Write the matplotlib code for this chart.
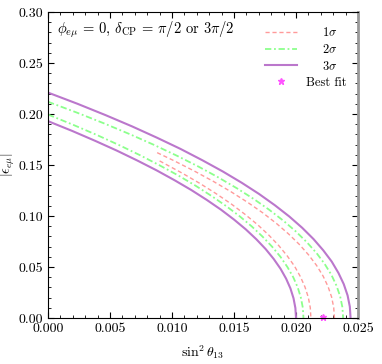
import matplotlib
matplotlib.use("Agg")
import matplotlib.pyplot as plt
from matplotlib.ticker import MultipleLocator

plt.rcParams.update({
    "font.family": "serif",
    "font.serif": ["cmr10", "DejaVu Serif"],
    "mathtext.fontset": "cm",
    "axes.formatter.use_mathtext": True,
    "font.size": 10,
})

# 3 sigma contour (outer / inner edge)
s3_out_x = [0, .00238, .00464, .00677, .00878, .01068, .01244, .01409, .01562, .01702, .0183,
            .01946, .0205, .02141, .0222, .02288, .02342, .02385, .02416, .02434, .0244]
s3_out_y = [.221, .2100, .1989, .1879, .1768, .1658, .1547, .1437, .1326, .1216, .1105,
            .0995, .0884, .0774, .0663, .0553, .0442, .0332, .0221, .0111, 0]
s3_in_x = [0, .00195, .0038, .00555, .0072, .00875, .0102, .01155, .0128, .01395, .0150,
           .01595, .0168, .01755, .0182, .01875, .0192, .01955, .0198, .01995, .0200]
s3_in_y = [.193, .1834, .1737, .1641, .1544, .1448, .1351, .1255, .1158, .1062, .0965,
           .0869, .0772, .0676, .0579, .0483, .0386, .0290, .0193, .0097, 0]

# 2 sigma contour
s2_out_x = [0, .00232, .00452, .0066, .00857, .01041, .01214, .01374, .01523, .0166, .01785,
            .01898, .01999, .02088, .02166, .02231, .02285, .02326, .02356, .02374, .0238]
s2_out_y = [.212, .2014, .1908, .1802, .1696, .159, .1484, .1378, .1272, .1166, .106,
            .0954, .0848, .0742, .0636, .053, .0424, .0318, .0212, .0106, 0]
s2_in_x = [0, .00201, .00391, .00572, .00742, .00901, .01051, .0119, .01318, .01437, .01545,
           .01643, .0173, .01808, .01875, .01931, .01978, .02014, .02039, .02055, .0206]
s2_in_y = [.1995, .1895, .1796, .1696, .1596, .1496, .1397, .1297, .1197, .1097, .0998,
           .0898, .0798, .0698, .0599, .0499, .0399, .0299, .0200, .0100, 0]

# 1 sigma contour
s1_out_x = [.0088, .01011, .01178, .01334, .01478, .01611, .01733, .01842, .0194, .02027,
            .02102, .02166, .02218, .02258, .02287, .02304, .0231]
s1_out_y = [.1621, .1545, .1442, .1339, .1236, .1133, .103, .0927, .0824, .0721,
            .0618, .0515, .0412, .0309, .0206, .0103, 0]
s1_in_x = [.0090, .01081, .01224, .01357, .01479, .0159, .01691, .01781, .0186, .01929,
           .01988, .02035, .02072, .02099, .02115, .0212]
s1_in_y = [.1540, .1421, .1320, .1218, .1117, .1015, .0914, .0812, .0711, .0609,
           .0508, .0406, .0305, .0203, .0102, 0]

best_x = [0.0222]
best_y = [0.0005]

fig = plt.figure(figsize=(3.82, 3.64), dpi=100)
ax = fig.add_axes([0.1257, 0.1264, 0.8115, 0.8406])

c1, c2, c3 = "#ff9a9a", "#8cff8c", "#bb77cc"
ls1 = (0, (3, 2))
ls2 = (0, (3.5, 1.5, 1, 1.5))
ax.plot(s1_out_x, s1_out_y, color=c1, ls=ls1, lw=1.0, label=r"    $1\sigma$")
ax.plot(s1_in_x, s1_in_y, color=c1, ls=ls1, lw=1.0)
ax.plot(s2_out_x, s2_out_y, color=c2, ls=ls2, lw=1.3, label=r"    $2\sigma$")
ax.plot(s2_in_x, s2_in_y, color=c2, ls=ls2, lw=1.3)
ax.plot(s3_out_x, s3_out_y, color=c3, ls="-", lw=1.5, label=r"    $3\sigma$")
ax.plot(s3_in_x, s3_in_y, color=c3, ls="-", lw=1.5)
ax.plot(best_x, best_y, ls="none", marker="*", ms=5, color="#ff55ff", label="Best fit", clip_on=False)

ax.set_xlim(0, 0.025)
ax.set_ylim(0, 0.30)
ax.xaxis.set_major_locator(MultipleLocator(0.005))
ax.xaxis.set_minor_locator(MultipleLocator(0.001))
ax.yaxis.set_major_locator(MultipleLocator(0.05))
ax.yaxis.set_minor_locator(MultipleLocator(0.01))
ax.xaxis.set_major_formatter(plt.FuncFormatter(lambda v, p: f"{v:.3f}"))
ax.yaxis.set_major_formatter(plt.FuncFormatter(lambda v, p: f"{v:.2f}"))
ax.tick_params(which="both", direction="in", top=True, right=True)
ax.tick_params(which="major", length=4)
ax.tick_params(which="minor", length=2)
ax.spines["right"].set_color("#999999")
ax.spines["right"].set_linewidth(2)

ax.set_xlabel(r"$\sin^2\theta_{13}$", fontsize=10, labelpad=6)
ax.set_ylabel(r"$|\epsilon_{e\mu}|$", fontsize=10)
ax.yaxis.set_label_coords(-0.10, 0.5)
ax.text(0.03, 0.975, r"$\phi_{e\mu}$ = 0, $\delta_{\rm CP}$ = $\pi/2$ or $3\pi/2$",
        transform=ax.transAxes, fontsize=10.5, va="top", ha="left")

ax.legend(loc="upper right", bbox_to_anchor=(1.0, 0.99), frameon=False, fontsize=9,
          handlelength=2.6, handletextpad=0.7, labelspacing=0.3)

fig.savefig("out.png", dpi=100)
